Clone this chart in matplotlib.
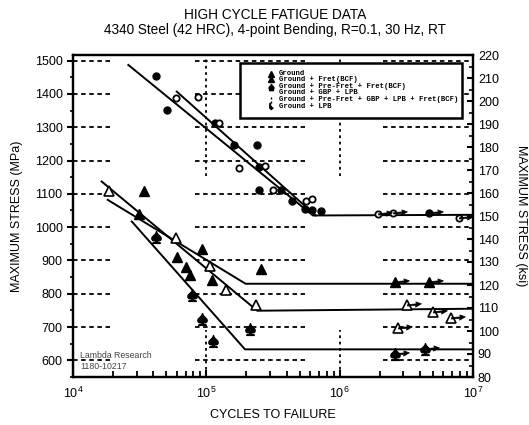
import matplotlib
matplotlib.use("Agg")
import matplotlib.pyplot as plt
import numpy as np
from matplotlib.path import Path
from matplotlib.patches import Rectangle

plt.rcParams['font.family'] = ['Liberation Sans', 'DejaVu Sans']
plt.rcParams['mathtext.fontset'] = 'custom'
plt.rcParams['mathtext.rm'] = 'Liberation Sans'

KSI = 6.894757

# ---- data (cycles, MPa) ----
# upper group (circles)
fcirc_n = [42e3, 51e3, 117e3, 160e3, 240e3, 250e3, 250e3, 365e3, 440e3, 550e3, 615e3, 730e3]
fcirc_s = [1455, 1353, 1313, 1247, 1247, 1180, 1110, 1110, 1077, 1055, 1050, 1047]
ocirc_n = [59e3, 87e3, 124e3, 176e3, 275e3, 316e3, 560e3, 615e3]
ocirc_s = [1387, 1390, 1313, 1178, 1183, 1110, 1077, 1085]
ocirc_run_n = [1.95e6, 2.5e6, 7.8e6]
ocirc_run_s = [1040, 1042, 1027]
fcirc_run_n = [4.7e6]
fcirc_run_s = [1042]

# lower group
otri_n = [18.7e3, 59e3, 107e3, 140e3, 236e3]
otri_s = [1108, 968, 882, 810, 765]
otri_run_n = [3.2e6, 5.0e6, 6.8e6, 2.75e6]
otri_run_s = [765, 745, 728, 697]
ftri_n = [34e3, 31e3, 92e3, 60.5e3, 70e3, 76e3, 110e3, 257e3]
ftri_s = [1108, 1040, 935, 910, 880, 855, 840, 875]
ftri_run_n = [2.6e6, 4.7e6]
ftri_run_s = [835, 835]
spade_n = [42e3, 78.5e3, 92e3, 112e3, 213e3]
spade_s = [970, 797, 725, 657, 693]
spade_run_n = [2.6e6, 4.4e6]
spade_run_s = [620, 635]

# S-N curves
lineA_n = [26e3, 630e3, 1e7]
lineA_s = [1487, 1035, 1037]
lineB_n = [60e3, 660e3]
lineB_s = [1407, 1035]
lineC_n = [18.2e3, 197e3, 1e7]
lineC_s = [1082, 830, 830]
lineD_n = [16.4e3, 241e3, 1e7]
lineD_s = [1137, 749, 755]
lineE_n = [27.6e3, 195e3, 1e7]
lineE_s = [1017, 633, 633]

legend_labels = [('Ground', 'Ground + Fret(BCF)'),
                 ('Ground + Pre-Fret + Fret(BCF)', 'Ground + GBP + LPB'),
                 ('Ground + Pre-Fret + GBP + LPB + Fret(BCF)', 'Ground + LPB')]
legend_markers = ['^', '^', '$\u2660$', None, '$\u00a6$', '$\u21b3$']

fig = plt.figure(figsize=(5.29, 4.25), dpi=100)
ax = fig.add_axes([73/529, 1-377/425, 400/529, 322/425])
ax.set_xscale('log')
ax.set_xlim(1e4, 1e7)
ax.set_ylim(80*KSI, 220*KSI)

# broken grid
for s in range(600, 1501, 100):
    for a, b in [(1e4, 2e4), (8.2e4, 5.5e5), (2.1e6, 1e7)]:
        ax.plot([a, b], [s, s], color='k', lw=1.3, ls=(0, (2.5, 2)), zorder=1)
for n in [1e5, 1e6]:
    ax.plot([n, n], [1154, 220*KSI], color='k', lw=1.3, ls=(0, (1.5, 2)), zorder=1)
    ax.plot([n, n], [80*KSI, 690], color='k', lw=1.3, ls=(0, (1.5, 2)), zorder=1)

for xs, ys in [(lineA_n, lineA_s), (lineB_n, lineB_s), (lineC_n, lineC_s),
               (lineD_n, lineD_s), (lineE_n, lineE_s)]:
    ax.plot(xs, ys, color='k', lw=1.4, zorder=3)

# runout arrow marker
arrow = Path([(0, -0.04), (0.62, 0.02), (0.58, -0.12), (1.0, 0.12),
              (0.6, 0.26), (0.64, 0.12), (0, 0.06), (0, -0.04)],
             [Path.MOVETO] + [Path.LINETO]*6 + [Path.CLOSEPOLY])

spade = '$\u2660$'
kw = dict(ls='none', zorder=4)
ax.plot(fcirc_n, fcirc_s, marker='o', ms=5, mfc='k', mec='k', **kw)
ax.plot(ocirc_n, ocirc_s, marker='o', ms=4.5, mfc='white', mec='k', mew=1.3, **kw)
ax.plot(otri_n, otri_s, marker='^', ms=6.5, mfc='white', mec='k', mew=1.2, **kw)
ax.plot(ftri_n, ftri_s, marker='^', ms=6.5, mfc='k', mec='k', **kw)
ax.plot(spade_n, spade_s, marker=spade, ms=8.5, color='k', **kw)

ax.plot(ocirc_run_n, ocirc_run_s, marker='o', ms=4.5, mfc='white', mec='k', mew=1.3, **kw)
ax.plot(fcirc_run_n, fcirc_run_s, marker='o', ms=5, mfc='k', mec='k', **kw)
ax.plot(otri_run_n, otri_run_s, marker='^', ms=6.5, mfc='white', mec='k', mew=1.2, **kw)
ax.plot(ftri_run_n, ftri_run_s, marker='^', ms=6.5, mfc='k', mec='k', **kw)
ax.plot(spade_run_n, spade_run_s, marker=spade, ms=8.5, color='k', **kw)
run_n = ocirc_run_n + fcirc_run_n + otri_run_n + ftri_run_n + spade_run_n
run_s = ocirc_run_s + fcirc_run_s + otri_run_s + ftri_run_s + spade_run_s
ax.plot(run_n, run_s, marker=arrow, ms=20, mfc='k', mec='k', mew=0.5, **kw)

# legend box
ax.add_patch(Rectangle((0.4175, 0.804), 0.555, 0.171, transform=ax.transAxes,
                       facecolor='white', edgecolor='k', lw=1.8, zorder=5))
ly = [0.933, 0.893, 0.851]
for y, labs in zip(ly, legend_labels):
    ax.text(0.515, y, '\n'.join(labs), transform=ax.transAxes, fontsize=5.2,
            family='Liberation Mono', weight='bold', va='center', linespacing=0.95,
            zorder=6)
row_y = [ly[0] + 0.009, ly[0] - 0.009, ly[1] + 0.009, ly[1] - 0.009,
         ly[2] + 0.009, ly[2] - 0.009]
for y, m in zip(row_y, legend_markers):
    if m is None:
        continue
    ax.plot([0.495], [y], marker=m, ms=4.5, color='k', ls='none',
            transform=ax.transAxes, zorder=6, clip_on=False)

ax.text(0.018, 0.018, 'Lambda Research\n1180-10217', transform=ax.transAxes,
        fontsize=6.3, color='#444444', va='bottom', linespacing=1.25, zorder=6)

# axes styling
for sp in ax.spines.values():
    sp.set_linewidth(1.6)
ax.set_yticks(range(600, 1501, 100))
ax.set_yticks(range(550, 1501, 50), minor=True)
ax.tick_params(axis='y', which='major', direction='out', length=4, width=1.5, labelsize=9)
ax.tick_params(axis='y', which='minor', direction='out', length=2, width=1.2)
ax.tick_params(axis='x', which='major', direction='in', length=5, width=1.5, labelsize=9, pad=6)
ax.tick_params(axis='x', which='minor', direction='in', length=4, width=1.3)
ax.set_ylabel('MAXIMUM STRESS (MPa)', fontsize=9, labelpad=8)
ax.set_xlabel('CYCLES TO FAILURE', fontsize=9, labelpad=6)

ax2 = ax.twinx()
ax2.set_ylim(80, 220)
ax2.set_yticks(range(80, 221, 10))
ax2.set_yticks(range(80, 221, 5), minor=True)
ax2.tick_params(axis='y', which='major', direction='in', length=4, width=1.5, labelsize=9)
ax2.tick_params(axis='y', which='minor', direction='in', length=3, width=1.2)
for sp in ax2.spines.values():
    sp.set_linewidth(1.6)
ax2.set_ylabel('MAXIMUM STRESS (ksi)', fontsize=9, rotation=270, labelpad=20)

fig.text(275/529, 1-15/425, 'HIGH CYCLE FATIGUE DATA', ha='center', va='center', fontsize=9.8)
fig.text(275/529, 1-30/425, '4340 Steel (42 HRC), 4-point Bending, R=0.1, 30 Hz, RT',
         ha='center', va='center', fontsize=9.8)

fig.savefig('out.png', dpi=100)
